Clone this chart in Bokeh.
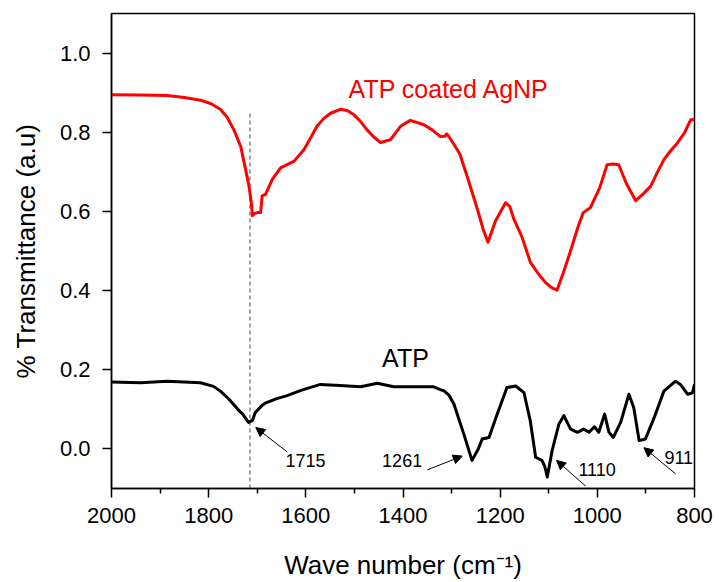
from bokeh.plotting import figure
from bokeh.models import Range1d, FixedTicker, Arrow, NormalHead, NumeralTickFormatter
from bokeh.core.properties import value
from bokeh.embed import file_html
from bokeh.resources import INLINE

# ATP coated AgNP (red)
agnp_x = [2000, 1940, 1885, 1850, 1817, 1795, 1776, 1762, 1748, 1734, 1724, 1717, 1712, 1710, 1705, 1700,
          1693, 1690, 1683, 1669, 1652, 1624, 1604, 1590, 1577, 1563, 1549, 1529, 1515, 1501, 1488, 1474,
          1460, 1446, 1426, 1405, 1385, 1357, 1340, 1323, 1314, 1310, 1305, 1295, 1283, 1268, 1247, 1235,
          1225, 1210, 1189, 1180, 1172, 1155, 1138, 1120, 1107, 1095, 1083, 1070, 1056, 1040, 1029, 1014,
          995, 980, 968, 956, 940, 921, 905, 890, 876, 863, 850, 835, 820, 808, 800]
agnp_y = [0.895, 0.894, 0.893, 0.888, 0.881, 0.872, 0.858, 0.838, 0.806, 0.764, 0.706, 0.664, 0.62, 0.589,
          0.595, 0.597, 0.597, 0.639, 0.643, 0.681, 0.710, 0.727, 0.756, 0.786, 0.815, 0.835, 0.848, 0.858,
          0.855, 0.844, 0.828, 0.806, 0.788, 0.774, 0.781, 0.815, 0.830, 0.819, 0.806, 0.789, 0.790, 0.796,
          0.788, 0.769, 0.745, 0.689, 0.606, 0.555, 0.522, 0.575, 0.622, 0.612, 0.581, 0.535, 0.472, 0.440,
          0.421, 0.408, 0.401, 0.445, 0.497, 0.560, 0.597, 0.610, 0.660, 0.718, 0.720, 0.718, 0.670, 0.627,
          0.645, 0.664, 0.700, 0.731, 0.752, 0.773, 0.800, 0.831, 0.833]

# ATP (black)
atp_x = [2000, 1940, 1885, 1817, 1790, 1776, 1760, 1749, 1740, 1730, 1718, 1710, 1704, 1690, 1681, 1660,
         1640, 1610, 1570, 1530, 1487, 1453, 1419, 1380, 1337, 1323, 1316, 1305, 1295, 1275, 1258, 1245,
         1237, 1223, 1206, 1186, 1168, 1151, 1138, 1127, 1114, 1108, 1103, 1093, 1079, 1069, 1055, 1041,
         1028, 1017, 1006, 997, 985, 976, 967, 952, 935, 925, 914, 901, 883, 863, 839, 829, 814, 804, 800]
atp_y = [0.169, 0.167, 0.171, 0.167, 0.158, 0.146, 0.128, 0.113, 0.100, 0.088, 0.067, 0.072, 0.092, 0.110,
         0.117, 0.127, 0.134, 0.148, 0.163, 0.160, 0.157, 0.166, 0.157, 0.157, 0.157, 0.150, 0.147, 0.135,
         0.113, 0.038, -0.029, 0.000, 0.025, 0.029, 0.088, 0.155, 0.159, 0.142, 0.071, -0.021, -0.029,
         -0.045, -0.071, -0.004, 0.063, 0.084, 0.050, 0.042, 0.050, 0.042, 0.056, 0.042, 0.088, 0.042, 0.029,
         0.067, 0.138, 0.104, 0.021, 0.025, 0.079, 0.146, 0.171, 0.163, 0.138, 0.142, 0.163]

x_ticks = [2000, 1800, 1600, 1400, 1200, 1000, 800]
x_minor = [1900, 1700, 1500, 1300, 1100, 900]
y_ticks = [0.0, 0.2, 0.4, 0.6, 0.8, 1.0]

# reference line at 1715 cm-1
ref_x = [1715, 1715]
ref_y = [-0.1, 0.855]

# peak labels: text, text x, text y, arrow start x, start y, tip x, tip y
peak_labels = ["1715", "1261", "1110", "911"]
label_x = [1642, 1443, 1039, 862]
label_y = [-0.028, -0.028, -0.053, -0.021]
arrow_x0 = [1638, 1350, 1024, 839]
arrow_y0 = [-0.008, -0.053, -0.094, -0.063]
arrow_x1 = [1703, 1278, 1084, 904]
arrow_y1 = [0.054, -0.018, -0.029, 0.003]

series_names = ["ATP coated AgNP", "ATP"]
series_label_x = [1512, 1443]
series_label_y = [0.909, 0.23]

FONT = "Liberation Sans"

p = figure(width=719, height=582, output_backend="svg", toolbar_location=None,
           x_range=Range1d(2000, 800), y_range=Range1d(-0.1, 1.1),
           min_border_left=111, min_border_right=25, min_border_top=13, min_border_bottom=91)

p.background_fill_color = "white"
p.border_fill_color = "white"
p.grid.visible = False
p.outline_line_color = "black"
p.outline_line_width = 1.5

p.xaxis.ticker = FixedTicker(ticks=x_ticks, minor_ticks=x_minor)
p.yaxis.ticker = FixedTicker(ticks=y_ticks)
p.yaxis.formatter = NumeralTickFormatter(format="0.0")

for ax in (p.xaxis[0], p.yaxis[0]):
    ax.axis_line_width = 1.5
    ax.axis_line_color = "black"
    ax.major_tick_line_color = "black"
    ax.major_tick_line_width = 1.5
    ax.major_tick_in = 0
    ax.major_tick_out = 9
    ax.minor_tick_in = 0
    ax.minor_tick_out = 5
    ax.minor_tick_line_width = 1.5
    ax.major_label_text_font = FONT
    ax.major_label_text_font_size = "22px"
    ax.major_label_text_color = "black"
    ax.axis_label_text_font = FONT
    ax.axis_label_text_font_size = "26px"
    ax.axis_label_text_font_style = "normal"
    ax.axis_label_text_color = "black"

p.xaxis.major_label_standoff = 10
p.yaxis.major_label_standoff = 12
p.yaxis.minor_tick_line_color = None
p.xaxis.minor_tick_line_color = "black"
p.xaxis.axis_label = "Wave number (cm\u207b\u00b9)"
p.yaxis.axis_label = "% Transmittance (a.u)"
p.xaxis.axis_label_standoff = 24
p.yaxis.axis_label_standoff = 16

p.line(ref_x, ref_y, line_color="#666666", line_width=1.2, line_dash="4 3")

p.line(agnp_x, agnp_y, line_color="#ff0000", line_width=3, line_join="round")
p.line(atp_x, atp_y, line_color="black", line_width=3, line_join="round")

p.text(x=series_label_x[:1], y=series_label_y[:1], text=series_names[:1], text_color="#ff0000",
       text_font=value(FONT), text_font_size="25px", text_baseline="middle", text_align="left")
p.text(x=series_label_x[1:], y=series_label_y[1:], text=series_names[1:], text_color="black",
       text_font=value(FONT), text_font_size="25px", text_baseline="middle", text_align="left")

p.text(x=label_x, y=label_y, text=peak_labels, text_color="black",
       text_font=value(FONT), text_font_size="18px", text_baseline="middle", text_align="left")

for xs, ys, xe, ye in zip(arrow_x0, arrow_y0, arrow_x1, arrow_y1):
    p.add_layout(Arrow(end=NormalHead(size=9, fill_color="black", line_color="black"),
                       x_start=xs, y_start=ys, x_end=xe, y_end=ye,
                       line_color="black", line_width=1))

open("out.html", "w").write(file_html(p, INLINE))
